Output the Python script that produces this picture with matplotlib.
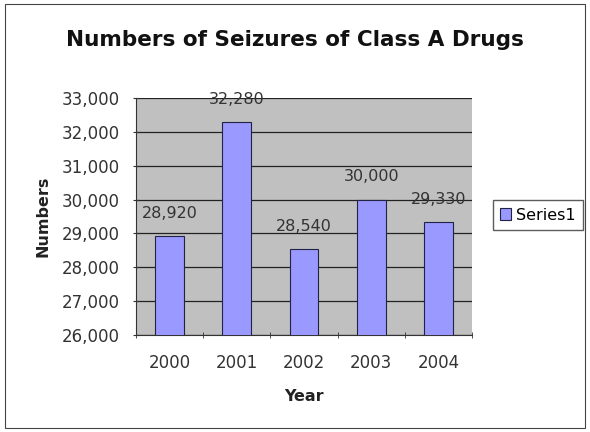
import numpy as np
import matplotlib.pyplot as plt
from matplotlib.ticker import FuncFormatter, MultipleLocator

plt.rcParams['font.family'] = ['DejaVu Sans']

years = ['2000', '2001', '2002', '2003', '2004']
seizures = [28920, 32280, 28540, 30000, 29330]

fig = plt.figure(figsize=(5.9, 4.32), dpi=100)
ax = fig.add_axes([0.2305, 0.2245, 0.5695, 0.5486])

x = np.arange(len(years))
bars = ax.bar(x, seizures, width=0.43, color='#9999ff', edgecolor='#222244',
              linewidth=0.8, label='Series1', zorder=3)

ax.set_facecolor('#c0c0c0')
ax.set_ylim(26000, 33000)
ax.set_xlim(-0.5, len(years) - 0.5)
ax.yaxis.set_major_locator(MultipleLocator(1000))
ax.yaxis.set_major_formatter(FuncFormatter(lambda v, p: f'{int(v):,}'))
ax.grid(axis='y', color='#222222', linewidth=0.9, zorder=1)

ax.set_xticks(x)
ax.set_xticklabels(years)
ax.set_xticks(np.arange(len(years) + 1) - 0.5, minor=True)
ax.tick_params(axis='x', which='major', length=0, pad=14, labelsize=12, colors='#333333')
ax.tick_params(axis='x', which='minor', length=5, direction='inout', color='#333333')
ax.tick_params(axis='y', length=5, direction='inout', labelsize=12, colors='#333333', pad=9)
for s in ['top', 'right']:
    ax.spines[s].set_visible(False)
for s in ['left', 'bottom']:
    ax.spines[s].set_color('#333333')

for xi, v in zip(x, seizures):
    ax.annotate(f'{v:,}', (xi, v), xytext=(0, 11), textcoords='offset points',
                ha='center', va='bottom', fontsize=11.5, color='#333333', zorder=4)

ax.set_xlabel('Year', fontsize=11.5, fontweight='bold', color='#222222', labelpad=12)
ax.set_ylabel('Numbers', fontsize=11.5, fontweight='bold', color='#222222', labelpad=8)
fig.text(0.5, 0.908, 'Numbers of Seizures of Class A Drugs', ha='center', va='center',
         fontsize=15.5, fontweight='bold', color='#111111')

leg = fig.legend(handles=[bars], labels=['Series1'], loc='center',
                 bbox_to_anchor=(0.912, 0.502), frameon=True, fancybox=False,
                 fontsize=11.5, handlelength=0.7, handleheight=0.7, handletextpad=0.3,
                 borderpad=0.45)
leg.get_frame().set_edgecolor('#333333')
leg.get_frame().set_linewidth(1.0)

fig.patches.append(plt.Rectangle((0.008, 0.01), 0.984, 0.98, transform=fig.transFigure,
                                 fill=False, edgecolor='#444444', linewidth=0.8))

fig.savefig('out.png', dpi=100)
